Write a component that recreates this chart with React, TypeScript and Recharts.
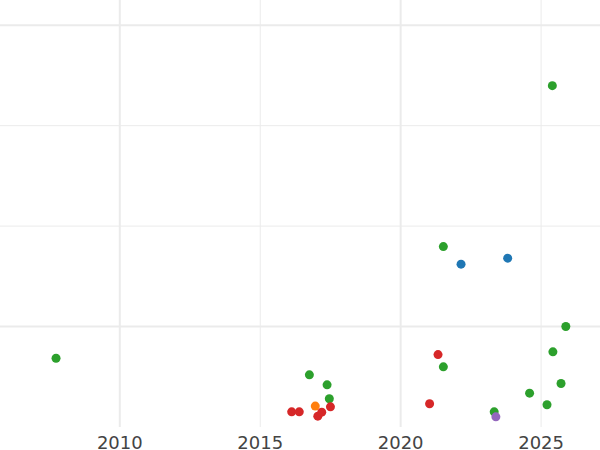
import React from "react";
import { ReferenceLine, Scatter, ScatterChart, XAxis, YAxis } from "recharts";

type Pt = { year: number; value: number };

// values (y in gridline units, hidden axis)
const green: Pt[] = [
  { year: 2007.73, value: 0.684 },
  { year: 2016.75, value: 0.519 },
  { year: 2017.38, value: 0.42 },
  { year: 2017.46, value: 0.281 },
  { year: 2021.52, value: 1.796 },
  { year: 2021.52, value: 0.599 },
  { year: 2023.33, value: 0.151 },
  { year: 2024.59, value: 0.337 },
  { year: 2025.21, value: 0.221 },
  { year: 2025.4, value: 3.398 },
  { year: 2025.42, value: 0.748 },
  { year: 2025.71, value: 0.433 },
  { year: 2025.88, value: 1.0 },
];
const red: Pt[] = [
  { year: 2016.12, value: 0.151 },
  { year: 2016.39, value: 0.151 },
  { year: 2017.05, value: 0.108 },
  { year: 2017.19, value: 0.148 },
  { year: 2017.5, value: 0.201 },
  { year: 2021.03, value: 0.231 },
  { year: 2021.33, value: 0.721 },
];
const blue: Pt[] = [
  { year: 2022.15, value: 1.621 },
  { year: 2023.81, value: 1.681 },
];
const orange: Pt[] = [{ year: 2016.96, value: 0.208 }];
const purple: Pt[] = [{ year: 2023.39, value: 0.101 }];

const yearTicks = [2010, 2015, 2020, 2025];
const majorYears = [2010, 2020];
const minorYears = [2015, 2025];
const majorLevels = [1, 4];
const minorLevels = [2, 3];

const gridColor = "#ebebeb";

const Dot = (props: any) => <circle cx={props.cx} cy={props.cy} r={4.5} fill={props.fill} />;

// label baseline sits ~20px under the plot's bottom edge
const Tick = (props: any) => (
  <text x={props.x} y={props.y + 20} textAnchor="middle" fill="#444" fontSize={18} fontFamily="DejaVu Sans">
    {props.payload.value}
  </text>
);

export default function App() {
  return (
    <div style={{ position: "absolute", left: 0, top: 0 }}>
      <ScatterChart width={600} height={450} margin={{ top: 0, right: 0, bottom: 0, left: 0 }}>
        <XAxis
          type="number"
          dataKey="year"
          domain={[2005.735, 2027.097]}
          ticks={yearTicks}
          allowDataOverflow
          axisLine={false}
          tickLine={false}
          tickSize={0}
          height={23}
          tick={<Tick />}
        />
        <YAxis type="number" dataKey="value" domain={[0, 4.251]} allowDataOverflow hide />
        {minorYears.map((y) => (
          <ReferenceLine key={"mx" + y} x={y} stroke={gridColor} strokeWidth={1} />
        ))}
        {majorYears.map((y) => (
          <ReferenceLine key={"Mx" + y} x={y} stroke={gridColor} strokeWidth={2} />
        ))}
        {minorLevels.map((v) => (
          <ReferenceLine key={"my" + v} y={v} stroke={gridColor} strokeWidth={1} />
        ))}
        {majorLevels.map((v) => (
          <ReferenceLine key={"My" + v} y={v} stroke={gridColor} strokeWidth={2} />
        ))}
        <Scatter data={green} fill="#2ca02c" shape={<Dot />} isAnimationActive={false} />
        <Scatter data={red} fill="#d62728" shape={<Dot />} isAnimationActive={false} />
        <Scatter data={blue} fill="#1f77b4" shape={<Dot />} isAnimationActive={false} />
        <Scatter data={orange} fill="#ff7f0e" shape={<Dot />} isAnimationActive={false} />
        <Scatter data={purple} fill="#9467bd" shape={<Dot />} isAnimationActive={false} />
      </ScatterChart>
    </div>
  );
}
